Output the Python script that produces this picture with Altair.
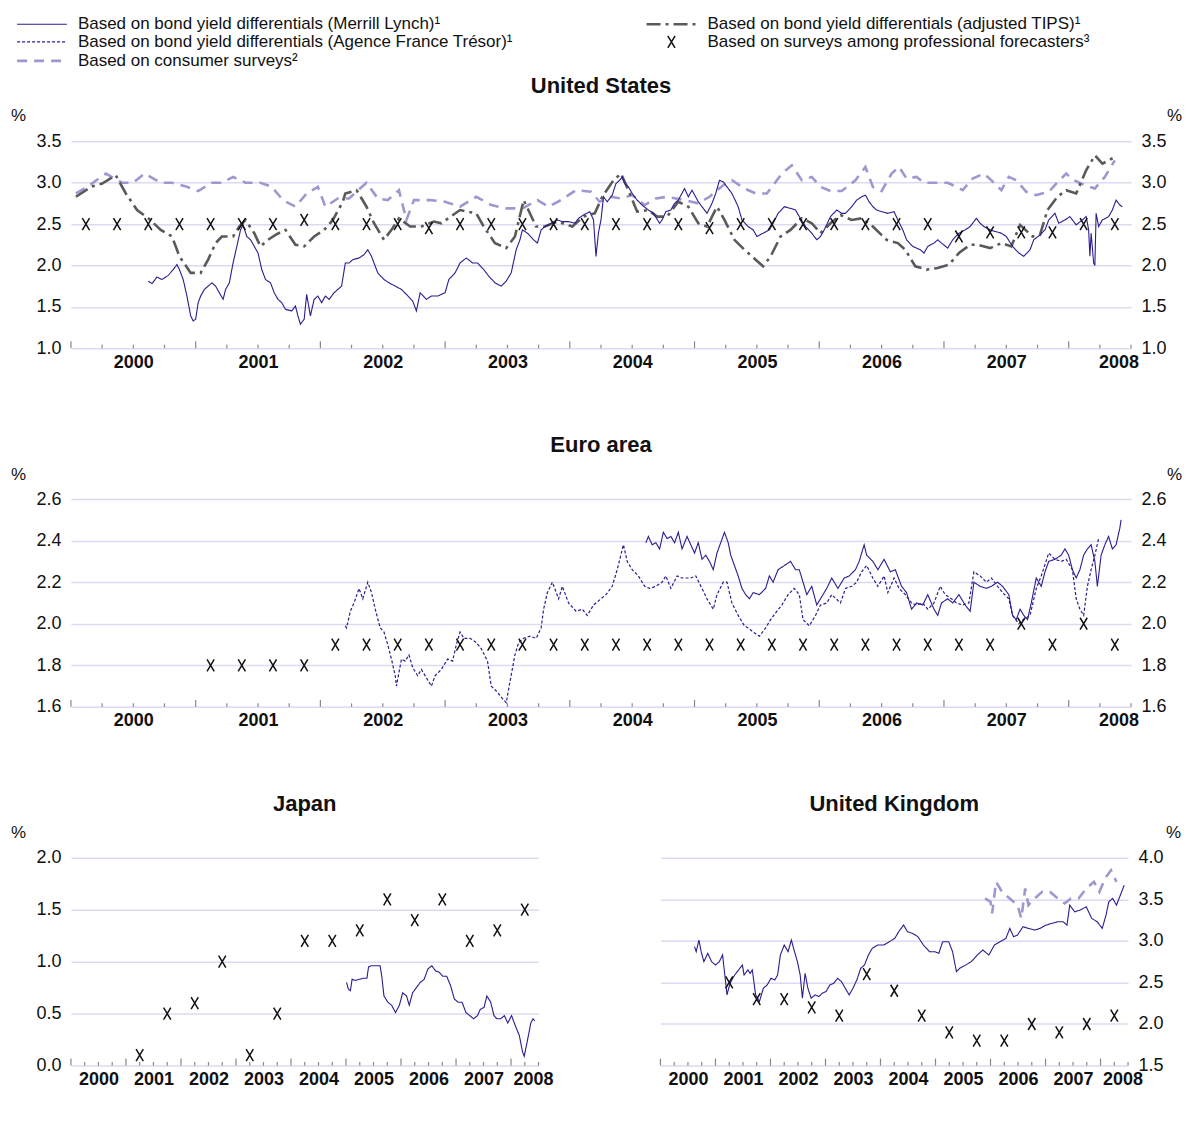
import altair as alt
import pandas as pd

FONT = "Liberation Sans"

S_ML = "Based on bond yield differentials (Merrill Lynch)¹"
S_TIPS = "Based on bond yield differentials (adjusted TIPS)¹"
S_AFT = "Based on bond yield differentials (Agence France Trésor)¹"
S_PF = "Based on surveys among professional forecasters³"
S_CS = "Based on consumer surveys²"
# legend fills column by column: left column ML, AFT, CS; right column TIPS, PF
SERIES = [S_ML, S_AFT, S_CS, S_TIPS, S_PF]
COLORS = ["#2b1d8f", "#2b1d8f", "#a097d0", "#5a5a5a", "#111111"]
DASHES = [[1, 0], [3, 2], [10, 7], [14, 5, 3, 5], [1, 0]]
WIDTHS = [1.1, 1.2, 2.6, 2.6, 1.5]
LPATH = "M-8.3,0L8.3,0"
XPATH = "M-1.2,-2L1.2,2M1.2,-2L-1.2,2"
SHAPES = [LPATH, LPATH, LPATH, LPATH, XPATH]

# axis tick / label positions (decimal years)
YEAR_TICKS = [2000, 2001, 2002, 2003, 2004, 2005, 2006, 2007, 2008]
QUARTER_TICKS = [2000.25, 2000.5, 2000.75, 2001.25, 2001.5, 2001.75, 2002.25, 2002.5, 2002.75,
                 2003.25, 2003.5, 2003.75, 2004.25, 2004.5, 2004.75, 2005.25, 2005.5, 2005.75,
                 2006.25, 2006.5, 2006.75, 2007.25, 2007.5, 2007.75, 2008.25, 2008.5]
YEAR_LABEL_POS = [2000.5, 2001.5, 2002.5, 2003.5, 2004.5, 2005.5, 2006.5, 2007.5, 2008.4]

# ---------------- United States ----------------
us_ml = [(2000.62, 1.81), (2000.65, 1.78), (2000.69, 1.86), (2000.73, 1.83), (2000.78, 1.88), (2000.82, 1.95),
         (2000.85, 2.01), (2000.87, 1.95), (2000.90, 1.83), (2000.93, 1.63), (2000.96, 1.39), (2000.98, 1.33),
         (2001.00, 1.35), (2001.02, 1.55), (2001.04, 1.63), (2001.07, 1.71), (2001.10, 1.75), (2001.13, 1.79),
         (2001.16, 1.75), (2001.19, 1.67), (2001.22, 1.59), (2001.24, 1.71), (2001.27, 1.79), (2001.30, 2.03),
         (2001.33, 2.23), (2001.36, 2.43), (2001.38, 2.49), (2001.41, 2.35), (2001.44, 2.31), (2001.47, 2.23),
         (2001.50, 2.15), (2001.53, 1.95), (2001.56, 1.83), (2001.60, 1.79), (2001.63, 1.67), (2001.66, 1.59),
         (2001.69, 1.55), (2001.72, 1.47), (2001.77, 1.45), (2001.80, 1.51), (2001.82, 1.39), (2001.84, 1.29),
         (2001.87, 1.35), (2001.89, 1.65), (2001.92, 1.39), (2001.95, 1.59), (2001.98, 1.63), (2002.01, 1.55),
         (2002.04, 1.63), (2002.07, 1.59), (2002.11, 1.67), (2002.14, 1.71), (2002.17, 1.75), (2002.20, 2.03),
         (2002.23, 2.03), (2002.26, 2.07), (2002.31, 2.09), (2002.35, 2.13), (2002.38, 2.19), (2002.41, 2.11),
         (2002.46, 1.91), (2002.51, 1.83), (2002.55, 1.79), (2002.60, 1.75), (2002.65, 1.71), (2002.69, 1.65),
         (2002.74, 1.57), (2002.77, 1.45), (2002.80, 1.67), (2002.85, 1.59), (2002.89, 1.63), (2002.94, 1.63),
         (2003.00, 1.67), (2003.03, 1.83), (2003.08, 1.91), (2003.12, 2.03), (2003.17, 2.09), (2003.22, 2.03),
         (2003.26, 2.03), (2003.31, 1.95), (2003.35, 1.87), (2003.40, 1.79), (2003.45, 1.75), (2003.49, 1.81),
         (2003.53, 1.91), (2003.57, 2.19), (2003.60, 2.31), (2003.62, 2.43), (2003.66, 2.39), (2003.71, 2.31),
         (2003.74, 2.27), (2003.77, 2.43), (2003.80, 2.47), (2003.85, 2.51), (2003.90, 2.55), (2003.94, 2.53),
         (2003.99, 2.53), (2004.04, 2.51), (2004.07, 2.57), (2004.11, 2.61), (2004.16, 2.65), (2004.19, 2.55),
         (2004.21, 2.11), (2004.23, 2.40), (2004.25, 2.55), (2004.27, 2.83), (2004.30, 2.77), (2004.34, 2.85),
         (2004.37, 2.99), (2004.40, 3.03), (2004.42, 3.07), (2004.44, 2.99), (2004.47, 2.95), (2004.50, 2.87),
         (2004.54, 2.79), (2004.58, 2.73), (2004.63, 2.67), (2004.67, 2.63), (2004.72, 2.51), (2004.74, 2.55),
         (2004.77, 2.65), (2004.81, 2.67), (2004.84, 2.75), (2004.87, 2.79), (2004.92, 2.93), (2004.95, 2.83),
         (2004.98, 2.91), (2005.03, 2.77), (2005.07, 2.69), (2005.10, 2.63), (2005.14, 2.75), (2005.17, 2.87),
         (2005.20, 3.03), (2005.23, 3.01), (2005.26, 2.95), (2005.30, 2.87), (2005.35, 2.71), (2005.38, 2.55),
         (2005.43, 2.47), (2005.47, 2.43), (2005.50, 2.35), (2005.55, 2.39), (2005.60, 2.43), (2005.63, 2.51),
         (2005.67, 2.63), (2005.72, 2.71), (2005.77, 2.69), (2005.81, 2.67), (2005.84, 2.59), (2005.89, 2.47),
         (2005.94, 2.39), (2005.98, 2.31), (2006.01, 2.35), (2006.04, 2.43), (2006.09, 2.59), (2006.14, 2.67),
         (2006.18, 2.63), (2006.21, 2.63), (2006.26, 2.71), (2006.30, 2.79), (2006.34, 2.83), (2006.37, 2.85),
         (2006.40, 2.77), (2006.43, 2.71), (2006.46, 2.67), (2006.50, 2.65), (2006.55, 2.63), (2006.60, 2.65),
         (2006.63, 2.55), (2006.67, 2.43), (2006.70, 2.31), (2006.75, 2.23), (2006.81, 2.19), (2006.84, 2.15),
         (2006.87, 2.23), (2006.92, 2.27), (2006.95, 2.31), (2006.98, 2.27), (2007.03, 2.21), (2007.07, 2.31),
         (2007.12, 2.39), (2007.17, 2.43), (2007.21, 2.47), (2007.26, 2.57), (2007.29, 2.51), (2007.32, 2.47),
         (2007.37, 2.43), (2007.41, 2.41), (2007.46, 2.39), (2007.50, 2.35), (2007.55, 2.23), (2007.60, 2.15),
         (2007.64, 2.11), (2007.69, 2.19), (2007.72, 2.31), (2007.77, 2.37), (2007.81, 2.43), (2007.84, 2.55),
         (2007.89, 2.63), (2007.92, 2.51), (2007.97, 2.55), (2008.01, 2.59), (2008.06, 2.49), (2008.11, 2.55),
         (2008.14, 2.59), (2008.16, 2.43), (2008.17, 2.11), (2008.18, 2.39), (2008.20, 2.03), (2008.21, 2.00),
         (2008.22, 2.63), (2008.24, 2.47), (2008.27, 2.55), (2008.32, 2.59), (2008.35, 2.67), (2008.38, 2.79),
         (2008.41, 2.73), (2008.43, 2.71)]

us_tips = [(2000.04, 2.83), (2000.16, 2.95), (2000.25, 2.99), (2000.36, 3.09), (2000.44, 2.87), (2000.53, 2.67),
           (2000.62, 2.57), (2000.72, 2.43), (2000.81, 2.35), (2000.87, 2.11), (2000.96, 1.91), (2001.04, 1.91),
           (2001.10, 2.07), (2001.16, 2.27), (2001.21, 2.35), (2001.30, 2.35), (2001.35, 2.47), (2001.40, 2.55),
           (2001.47, 2.39), (2001.52, 2.23), (2001.58, 2.31), (2001.64, 2.37), (2001.72, 2.43), (2001.80, 2.25),
           (2001.87, 2.23), (2001.95, 2.35), (2002.03, 2.43), (2002.10, 2.55), (2002.18, 2.77), (2002.20, 2.87),
           (2002.29, 2.91), (2002.37, 2.71), (2002.43, 2.51), (2002.51, 2.31), (2002.57, 2.43), (2002.63, 2.57),
           (2002.72, 2.47), (2002.81, 2.47), (2002.91, 2.53), (2002.97, 2.51), (2003.12, 2.67), (2003.25, 2.63),
           (2003.31, 2.47), (2003.40, 2.27), (2003.49, 2.21), (2003.56, 2.35), (2003.63, 2.79), (2003.73, 2.47),
           (2003.80, 2.47), (2003.90, 2.53), (2004.02, 2.47), (2004.11, 2.59), (2004.20, 2.63), (2004.26, 2.83),
           (2004.35, 3.03), (2004.41, 3.11), (2004.47, 2.91), (2004.54, 2.65), (2004.63, 2.67), (2004.70, 2.59),
           (2004.78, 2.59), (2004.87, 2.77), (2004.95, 2.71), (2005.03, 2.51), (2005.10, 2.47), (2005.18, 2.71),
           (2005.24, 2.55), (2005.32, 2.31), (2005.40, 2.19), (2005.49, 2.07), (2005.55, 1.99), (2005.61, 2.11),
           (2005.69, 2.35), (2005.77, 2.43), (2005.86, 2.57), (2005.94, 2.51), (2006.01, 2.39), (2006.09, 2.51),
           (2006.17, 2.61), (2006.26, 2.55), (2006.34, 2.57), (2006.43, 2.47), (2006.54, 2.31), (2006.63, 2.27),
           (2006.69, 2.19), (2006.77, 1.99), (2006.86, 1.95), (2006.95, 1.97), (2007.04, 2.01), (2007.12, 2.15),
           (2007.21, 2.25), (2007.27, 2.25), (2007.37, 2.21), (2007.46, 2.27), (2007.54, 2.23), (2007.61, 2.49),
           (2007.71, 2.35), (2007.77, 2.37), (2007.83, 2.67), (2007.91, 2.83), (2007.98, 2.91), (2008.06, 2.87),
           (2008.14, 3.15), (2008.21, 3.33), (2008.27, 3.23), (2008.37, 3.31)]

us_cs = [(2000.04, 2.87), (2000.13, 2.95), (2000.28, 3.11), (2000.41, 3.00), (2000.50, 3.00), (2000.59, 3.11),
         (2000.72, 3.00), (2000.81, 3.00), (2000.93, 2.95), (2001.02, 2.90), (2001.13, 3.00), (2001.21, 3.00),
         (2001.30, 3.07), (2001.40, 3.00), (2001.52, 3.00), (2001.61, 2.95), (2001.70, 2.79), (2001.80, 2.71),
         (2001.89, 2.87), (2001.98, 2.95), (2002.04, 2.71), (2002.14, 2.81), (2002.23, 2.81), (2002.37, 3.00),
         (2002.46, 2.81), (2002.54, 2.79), (2002.63, 2.91), (2002.69, 2.55), (2002.75, 2.79), (2002.88, 2.79),
         (2003.00, 2.77), (2003.12, 2.71), (2003.25, 2.83), (2003.37, 2.73), (2003.49, 2.69), (2003.62, 2.69),
         (2003.74, 2.79), (2003.83, 2.71), (2003.93, 2.79), (2004.05, 2.91), (2004.17, 2.89), (2004.24, 2.77),
         (2004.32, 2.83), (2004.41, 2.81), (2004.50, 2.85), (2004.60, 2.73), (2004.69, 2.81), (2004.78, 2.83),
         (2004.92, 2.79), (2005.03, 2.75), (2005.12, 2.83), (2005.23, 2.97), (2005.30, 3.03), (2005.40, 2.93),
         (2005.49, 2.87), (2005.58, 2.87), (2005.70, 3.11), (2005.78, 3.21), (2005.86, 3.03), (2005.94, 3.07),
         (2006.01, 2.95), (2006.09, 2.90), (2006.18, 2.90), (2006.29, 3.03), (2006.37, 3.19), (2006.43, 2.95),
         (2006.50, 2.90), (2006.58, 3.11), (2006.64, 3.19), (2006.70, 3.05), (2006.78, 3.07), (2006.84, 3.00),
         (2007.03, 3.00), (2007.10, 2.95), (2007.15, 2.91), (2007.23, 3.05), (2007.32, 3.11), (2007.38, 3.03),
         (2007.46, 2.91), (2007.52, 3.07), (2007.58, 3.03), (2007.66, 2.89), (2007.74, 2.85), (2007.84, 2.89),
         (2007.90, 2.99), (2007.98, 3.11), (2008.04, 3.03), (2008.10, 2.99), (2008.17, 2.95), (2008.21, 2.93),
         (2008.29, 3.07), (2008.37, 3.27)]

us_pf = [(2000.12, 2.5), (2000.37, 2.5), (2000.62, 2.5), (2000.87, 2.5), (2001.12, 2.5), (2001.37, 2.5),
         (2001.62, 2.5), (2001.87, 2.55), (2002.12, 2.5), (2002.37, 2.5), (2002.62, 2.5), (2002.87, 2.45),
         (2003.12, 2.5), (2003.37, 2.5), (2003.62, 2.5), (2003.87, 2.5), (2004.12, 2.5), (2004.37, 2.5),
         (2004.62, 2.5), (2004.87, 2.5), (2005.12, 2.45), (2005.37, 2.5), (2005.62, 2.5), (2005.87, 2.5),
         (2006.12, 2.5), (2006.37, 2.5), (2006.62, 2.5), (2006.87, 2.5), (2007.12, 2.35), (2007.37, 2.4),
         (2007.62, 2.4), (2007.87, 2.4), (2008.12, 2.5), (2008.37, 2.5)]

# ---------------- Euro area ----------------
eu_ml = [(2004.61, 2.39), (2004.63, 2.42), (2004.66, 2.38), (2004.69, 2.39), (2004.72, 2.36), (2004.75, 2.44),
         (2004.78, 2.41), (2004.81, 2.42), (2004.84, 2.39), (2004.87, 2.44), (2004.90, 2.36), (2004.94, 2.42),
         (2004.97, 2.38), (2005.00, 2.34), (2005.03, 2.39), (2005.06, 2.31), (2005.09, 2.33), (2005.12, 2.30),
         (2005.15, 2.26), (2005.18, 2.34), (2005.21, 2.39), (2005.24, 2.44), (2005.27, 2.39), (2005.29, 2.33),
         (2005.32, 2.28), (2005.35, 2.23), (2005.38, 2.17), (2005.41, 2.14), (2005.44, 2.12), (2005.47, 2.15),
         (2005.52, 2.14), (2005.57, 2.17), (2005.60, 2.23), (2005.63, 2.20), (2005.67, 2.26), (2005.72, 2.28),
         (2005.77, 2.30), (2005.81, 2.26), (2005.84, 2.26), (2005.87, 2.20), (2005.90, 2.14), (2005.94, 2.18),
         (2005.98, 2.09), (2006.01, 2.12), (2006.06, 2.17), (2006.10, 2.22), (2006.15, 2.17), (2006.20, 2.22),
         (2006.24, 2.23), (2006.29, 2.26), (2006.32, 2.30), (2006.36, 2.38), (2006.38, 2.33), (2006.43, 2.30),
         (2006.47, 2.26), (2006.52, 2.31), (2006.57, 2.25), (2006.61, 2.26), (2006.66, 2.18), (2006.70, 2.15),
         (2006.74, 2.07), (2006.78, 2.10), (2006.83, 2.09), (2006.87, 2.14), (2006.92, 2.07), (2006.95, 2.04),
         (2006.98, 2.10), (2007.03, 2.12), (2007.07, 2.10), (2007.12, 2.14), (2007.17, 2.09), (2007.21, 2.06),
         (2007.24, 2.20), (2007.29, 2.18), (2007.34, 2.17), (2007.38, 2.18), (2007.43, 2.20), (2007.47, 2.18),
         (2007.52, 2.14), (2007.55, 2.04), (2007.58, 2.02), (2007.61, 2.07), (2007.64, 2.04), (2007.67, 2.02),
         (2007.70, 2.10), (2007.74, 2.22), (2007.78, 2.18), (2007.81, 2.25), (2007.84, 2.30), (2007.89, 2.31),
         (2007.94, 2.33), (2007.97, 2.36), (2008.00, 2.33), (2008.03, 2.26), (2008.06, 2.22), (2008.09, 2.26),
         (2008.12, 2.33), (2008.15, 2.36), (2008.18, 2.38), (2008.21, 2.30), (2008.23, 2.18), (2008.26, 2.33),
         (2008.29, 2.38), (2008.32, 2.42), (2008.35, 2.36), (2008.38, 2.38), (2008.41, 2.46), (2008.42, 2.50)]

eu_aft = [(2002.20, 1.99), (2002.21, 1.98), (2002.24, 2.06), (2002.27, 2.10), (2002.31, 2.17), (2002.34, 2.12),
          (2002.37, 2.18), (2002.38, 2.20), (2002.41, 2.15), (2002.44, 2.07), (2002.48, 1.98), (2002.51, 1.96),
          (2002.54, 1.90), (2002.57, 1.83), (2002.60, 1.75), (2002.61, 1.70), (2002.65, 1.83), (2002.68, 1.82),
          (2002.71, 1.85), (2002.74, 1.79), (2002.78, 1.75), (2002.81, 1.78), (2002.85, 1.74), (2002.89, 1.70),
          (2002.92, 1.75), (2002.97, 1.78), (2003.02, 1.83), (2003.06, 1.82), (2003.09, 1.90), (2003.12, 1.96),
          (2003.15, 1.93), (2003.20, 1.93), (2003.25, 1.91), (2003.29, 1.88), (2003.34, 1.82), (2003.37, 1.70),
          (2003.42, 1.67), (2003.46, 1.64), (2003.49, 1.62), (2003.52, 1.72), (2003.56, 1.85), (2003.59, 1.91),
          (2003.63, 1.93), (2003.68, 1.94), (2003.73, 1.93), (2003.77, 1.98), (2003.79, 2.07), (2003.82, 2.15),
          (2003.86, 2.20), (2003.91, 2.12), (2003.94, 2.18), (2003.99, 2.10), (2004.05, 2.06), (2004.10, 2.07),
          (2004.14, 2.04), (2004.19, 2.09), (2004.25, 2.12), (2004.29, 2.14), (2004.34, 2.18), (2004.38, 2.26),
          (2004.43, 2.38), (2004.46, 2.30), (2004.50, 2.26), (2004.55, 2.23), (2004.60, 2.18), (2004.64, 2.17),
          (2004.69, 2.18), (2004.74, 2.20), (2004.77, 2.23), (2004.81, 2.17), (2004.86, 2.23), (2004.90, 2.22),
          (2004.97, 2.22), (2005.01, 2.23), (2005.06, 2.17), (2005.10, 2.12), (2005.15, 2.07), (2005.18, 2.14),
          (2005.23, 2.20), (2005.26, 2.20), (2005.30, 2.10), (2005.35, 2.04), (2005.40, 1.99), (2005.43, 1.98),
          (2005.47, 1.96), (2005.52, 1.94), (2005.57, 1.98), (2005.61, 2.02), (2005.66, 2.06), (2005.70, 2.09),
          (2005.75, 2.14), (2005.80, 2.17), (2005.84, 2.14), (2005.87, 2.02), (2005.92, 1.99), (2005.97, 2.04),
          (2006.01, 2.09), (2006.06, 2.10), (2006.10, 2.14), (2006.17, 2.10), (2006.21, 2.17), (2006.26, 2.18),
          (2006.30, 2.20), (2006.34, 2.25), (2006.38, 2.28), (2006.43, 2.22), (2006.47, 2.18), (2006.52, 2.23),
          (2006.55, 2.15), (2006.60, 2.22), (2006.64, 2.17), (2006.69, 2.14), (2006.74, 2.10), (2006.78, 2.09),
          (2006.83, 2.10), (2006.87, 2.07), (2006.92, 2.10), (2006.97, 2.18), (2007.01, 2.14), (2007.06, 2.12),
          (2007.10, 2.10), (2007.15, 2.09), (2007.20, 2.10), (2007.24, 2.25), (2007.29, 2.23), (2007.34, 2.20),
          (2007.38, 2.22), (2007.43, 2.18), (2007.47, 2.15), (2007.52, 2.12), (2007.55, 2.04), (2007.60, 2.00),
          (2007.64, 2.02), (2007.69, 2.04), (2007.74, 2.17), (2007.78, 2.23), (2007.84, 2.34), (2007.89, 2.31),
          (2007.94, 2.30), (2007.98, 2.31), (2008.03, 2.26), (2008.06, 2.12), (2008.09, 2.07), (2008.12, 2.04),
          (2008.15, 2.18), (2008.18, 2.26), (2008.21, 2.33), (2008.24, 2.41)]

eu_pf = [(2001.12, 1.8), (2001.37, 1.8), (2001.62, 1.8), (2001.87, 1.8), (2002.12, 1.9), (2002.37, 1.9),
         (2002.62, 1.9), (2002.87, 1.9), (2003.12, 1.9), (2003.37, 1.9), (2003.62, 1.9), (2003.87, 1.9),
         (2004.12, 1.9), (2004.37, 1.9), (2004.62, 1.9), (2004.87, 1.9), (2005.12, 1.9), (2005.37, 1.9),
         (2005.62, 1.9), (2005.87, 1.9), (2006.12, 1.9), (2006.37, 1.9), (2006.62, 1.9), (2006.87, 1.9),
         (2007.12, 1.9), (2007.37, 1.9), (2007.62, 2.0), (2007.87, 1.9), (2008.12, 2.0), (2008.37, 1.9)]

# ---------------- Japan ----------------
jp_ml = [(2005.01, 0.80), (2005.04, 0.74), (2005.08, 0.72), (2005.11, 0.83), (2005.17, 0.82), (2005.24, 0.83),
         (2005.31, 0.84), (2005.38, 0.84), (2005.41, 0.95), (2005.46, 0.96), (2005.55, 0.96), (2005.62, 0.96),
         (2005.65, 0.86), (2005.69, 0.67), (2005.76, 0.61), (2005.83, 0.58), (2005.90, 0.51), (2005.97, 0.58),
         (2006.03, 0.70), (2006.10, 0.67), (2006.15, 0.58), (2006.21, 0.70), (2006.28, 0.75), (2006.35, 0.80),
         (2006.42, 0.83), (2006.49, 0.93), (2006.56, 0.96), (2006.63, 0.91), (2006.69, 0.90), (2006.76, 0.86),
         (2006.83, 0.86), (2006.90, 0.77), (2006.97, 0.64), (2007.04, 0.61), (2007.11, 0.61), (2007.18, 0.51),
         (2007.25, 0.48), (2007.32, 0.45), (2007.39, 0.48), (2007.44, 0.54), (2007.51, 0.56), (2007.56, 0.67),
         (2007.63, 0.61), (2007.69, 0.48), (2007.74, 0.45), (2007.81, 0.45), (2007.88, 0.48), (2007.94, 0.41),
         (2008.01, 0.48), (2008.08, 0.38), (2008.15, 0.29), (2008.21, 0.13), (2008.24, 0.09), (2008.29, 0.22),
         (2008.36, 0.41), (2008.40, 0.45), (2008.43, 0.43)]

jp_pf = [(2001.25, 0.1), (2001.75, 0.5), (2002.25, 0.6), (2002.75, 1.0), (2003.25, 0.1), (2003.75, 0.5),
         (2004.25, 1.2), (2004.75, 1.2), (2005.25, 1.3), (2005.75, 1.6), (2006.25, 1.4), (2006.75, 1.6),
         (2007.25, 1.2), (2007.75, 1.3), (2008.25, 1.5)]

# ---------------- United Kingdom ----------------
uk_ml = [(2000.62, 2.93), (2000.65, 2.87), (2000.70, 3.01), (2000.74, 2.87), (2000.79, 2.75), (2000.86, 2.85),
         (2000.93, 2.75), (2001.00, 2.71), (2001.07, 2.75), (2001.13, 2.83), (2001.17, 2.59), (2001.21, 2.35),
         (2001.24, 2.43), (2001.28, 2.51), (2001.35, 2.59), (2001.42, 2.65), (2001.49, 2.71), (2001.52, 2.59),
         (2001.59, 2.65), (2001.63, 2.61), (2001.67, 2.65), (2001.73, 2.35), (2001.80, 2.27), (2001.87, 2.43),
         (2001.94, 2.47), (2002.01, 2.55), (2002.08, 2.53), (2002.13, 2.59), (2002.18, 2.83), (2002.25, 2.95),
         (2002.32, 2.87), (2002.38, 3.01), (2002.42, 2.91), (2002.49, 2.75), (2002.54, 2.59), (2002.58, 2.31),
         (2002.63, 2.61), (2002.68, 2.43), (2002.74, 2.31), (2002.81, 2.35), (2002.88, 2.33), (2002.94, 2.37),
         (2003.01, 2.39), (2003.08, 2.47), (2003.15, 2.49), (2003.22, 2.55), (2003.29, 2.51), (2003.36, 2.43),
         (2003.43, 2.35), (2003.50, 2.43), (2003.57, 2.53), (2003.64, 2.67), (2003.71, 2.71), (2003.78, 2.83),
         (2003.85, 2.91), (2003.95, 2.95), (2004.06, 2.95), (2004.16, 2.99), (2004.26, 3.03), (2004.33, 3.11),
         (2004.42, 3.19), (2004.49, 3.11), (2004.58, 3.09), (2004.68, 3.05), (2004.78, 2.95), (2004.89, 2.87),
         (2004.99, 2.87), (2005.06, 2.85), (2005.13, 2.99), (2005.24, 2.99), (2005.31, 2.87), (2005.38, 2.63),
         (2005.44, 2.67), (2005.55, 2.71), (2005.65, 2.75), (2005.76, 2.83), (2005.86, 2.89), (2005.97, 2.83),
         (2006.07, 2.95), (2006.17, 2.99), (2006.28, 3.03), (2006.35, 3.15), (2006.42, 3.05), (2006.49, 3.07),
         (2006.59, 3.17), (2006.69, 3.15), (2006.80, 3.13), (2006.90, 3.15), (2007.01, 3.19), (2007.11, 3.21),
         (2007.22, 3.23), (2007.32, 3.23), (2007.39, 3.19), (2007.44, 3.43), (2007.53, 3.35), (2007.63, 3.37),
         (2007.74, 3.41), (2007.84, 3.27), (2007.94, 3.23), (2008.03, 3.15), (2008.10, 3.31), (2008.15, 3.47),
         (2008.22, 3.51), (2008.29, 3.43), (2008.36, 3.55), (2008.43, 3.67)]

uk_cs = [(2005.90, 3.51), (2006.00, 3.47), (2006.03, 3.33), (2006.10, 3.71), (2006.21, 3.59), (2006.35, 3.51),
         (2006.49, 3.43), (2006.56, 3.27), (2006.63, 3.63), (2006.69, 3.43), (2006.80, 3.51), (2006.94, 3.59),
         (2007.08, 3.59), (2007.22, 3.51), (2007.35, 3.45), (2007.46, 3.51), (2007.60, 3.51), (2007.74, 3.63),
         (2007.88, 3.71), (2007.98, 3.59), (2008.08, 3.75), (2008.19, 3.85), (2008.29, 3.71)]

uk_pf = [(2001.25, 2.5), (2001.75, 2.3), (2002.25, 2.3), (2002.75, 2.2), (2003.25, 2.1), (2003.75, 2.6),
         (2004.25, 2.4), (2004.75, 2.1), (2005.25, 1.9), (2005.75, 1.8), (2006.25, 1.8), (2006.75, 2.0),
         (2007.25, 1.9), (2007.75, 2.0), (2008.25, 2.1)]


def frame(*pairs_by_series):
    rows = []
    for name, pairs in pairs_by_series:
        for t, v in pairs:
            rows.append({"t": t, "v": v, "series": name})
    return pd.DataFrame(rows)


XAXIS = alt.Axis(values=YEAR_LABEL_POS,
                 labelExpr="datum.value > 2008 ? '2008' : '' + floor(datum.value)",
                 title=None, grid=False, ticks=False, tickSize=0, domain=False,
                 labelFontSize=18, labelFontWeight="bold", labelPadding=5,
                 labelOverlap=False, labelFlush=False)

long_ticks = pd.DataFrame({"t": YEAR_TICKS})
short_ticks = pd.DataFrame({"t": QUARTER_TICKS})


def yaxis(orient, vals, grid, tx, ty):
    return alt.Axis(orient=orient, values=vals, format=".1f", grid=grid, gridColor="#dcdaf1",
                    gridWidth=1.5, ticks=False, tickSize=0, domain=False, labelFontSize=18,
                    labelPadding=10, labelFlush=False, title="%", titleAngle=0, titleX=tx, titleY=ty,
                    titleAlign="center", titleBaseline="middle", titleFontWeight="normal",
                    titleFontSize=17)


def panel(title, thin, thick, pf, ydom, left_axis, right_axis, w, h):
    xs = alt.Scale(domain=[2000, 2008.5], nice=False, zero=False)
    ys = alt.Scale(domain=ydom, nice=False, zero=False)
    X = alt.X("t:Q", scale=xs, axis=XAXIS)
    Yn = alt.Y("v:Q", scale=ys, axis=None)
    color = alt.Color("series:N", scale=alt.Scale(domain=SERIES, range=COLORS), title=None)
    dash = alt.StrokeDash("series:N", scale=alt.Scale(domain=SERIES, range=DASHES), title=None)
    width = alt.StrokeWidth("series:N", scale=alt.Scale(type="ordinal", domain=SERIES, range=WIDTHS),
                            title=None)
    shape = alt.Shape("series:N", scale=alt.Scale(domain=SERIES, range=SHAPES), title=None)
    layers = [
        alt.Chart(long_ticks).mark_tick(orient="vertical", size=7, yOffset=-3.5, thickness=1.2,
                                        color="#555555")
        .encode(x=X, y=alt.YDatum(ydom[0], scale=ys, axis=left_axis)),
        alt.Chart(short_ticks).mark_tick(orient="vertical", size=3.5, yOffset=-1.75, thickness=1.2,
                                         color="#555555")
        .encode(x=X, y=alt.YDatum(ydom[0], scale=ys, axis=right_axis)),
    ]
    if thick is not None:
        layers.append(alt.Chart(thick).mark_line()
                      .encode(x=X, y=Yn, color=color, strokeDash=dash, strokeWidth=width))
    layers.append(alt.Chart(thin).mark_line()
                  .encode(x=X, y=Yn, color=color, strokeDash=dash, strokeWidth=width))
    layers.append(alt.Chart(pf).mark_point(size=36, filled=False, opacity=1)
                  .encode(x=X, y=Yn, color=color, shape=shape, strokeWidth=width))
    return (alt.layer(*layers)
            .resolve_axis(y="independent")
            .properties(width=w, height=h,
                        title=alt.TitleParams(title, fontSize=22, fontWeight="bold", anchor="middle",
                                              frame="group", offset=8, color="#111111")))


US_Y = [1.0, 1.5, 2.0, 2.5, 3.0, 3.5]
EU_Y = [1.6, 1.8, 2.0, 2.2, 2.4, 2.6]
JP_Y = [0.0, 0.5, 1.0, 1.5, 2.0]
UK_Y = [1.5, 2.0, 2.5, 3.0, 3.5, 4.0]

us = panel("United States",
           frame((S_ML, us_ml)),
           frame((S_CS, us_cs), (S_TIPS, us_tips)),
           frame((S_PF, us_pf)),
           [1.0, 3.5],
           yaxis("left", US_Y, True, -53, -26), yaxis("right", US_Y, False, 43, -26), 1061, 207)

eu = panel("Euro area",
           frame((S_ML, eu_ml), (S_AFT, eu_aft)),
           None,
           frame((S_PF, eu_pf)),
           [1.6, 2.6],
           yaxis("left", EU_Y, True, -53, -25), yaxis("right", EU_Y, False, 43, -25), 1061, 208)

jp = panel("Japan",
           frame((S_ML, jp_ml)),
           None,
           frame((S_PF, jp_pf)),
           [0.0, 2.0],
           yaxis("left", JP_Y, True, -53, -25), None, 468, 208)

uk = panel("United Kingdom",
           frame((S_ML, uk_ml)),
           frame((S_CS, uk_cs)),
           frame((S_PF, uk_pf)),
           [1.5, 4.0],
           None, yaxis("right", UK_Y, True, 45, -25), 468, 208)

chart = (alt.vconcat(us, eu, alt.hconcat(jp, uk, spacing=122, bounds="flush"),
                     spacing=151, bounds="flush")
         .properties(padding={"left": 2, "top": 7, "right": 0, "bottom": 10}, background="white")
         .configure_view(stroke=None)
         .configure_axis(labelFont=FONT, titleFont=FONT, labelColor="#111111", titleColor="#111111")
         .configure_title(font=FONT)
         .configure_legend(orient="none", legendX=-37.5, legendY=-126, columns=2, columnPadding=127,
                           rowPadding=0, labelFont=FONT, labelFontSize=17, labelOffset=27.5, labelLimit=0,
                           symbolSize=36, padding=0, labelColor="#111111",
                           symbolFillColor="transparent"))

chart.save("out.html", embed_options={"renderer": "svg", "actions": False})
